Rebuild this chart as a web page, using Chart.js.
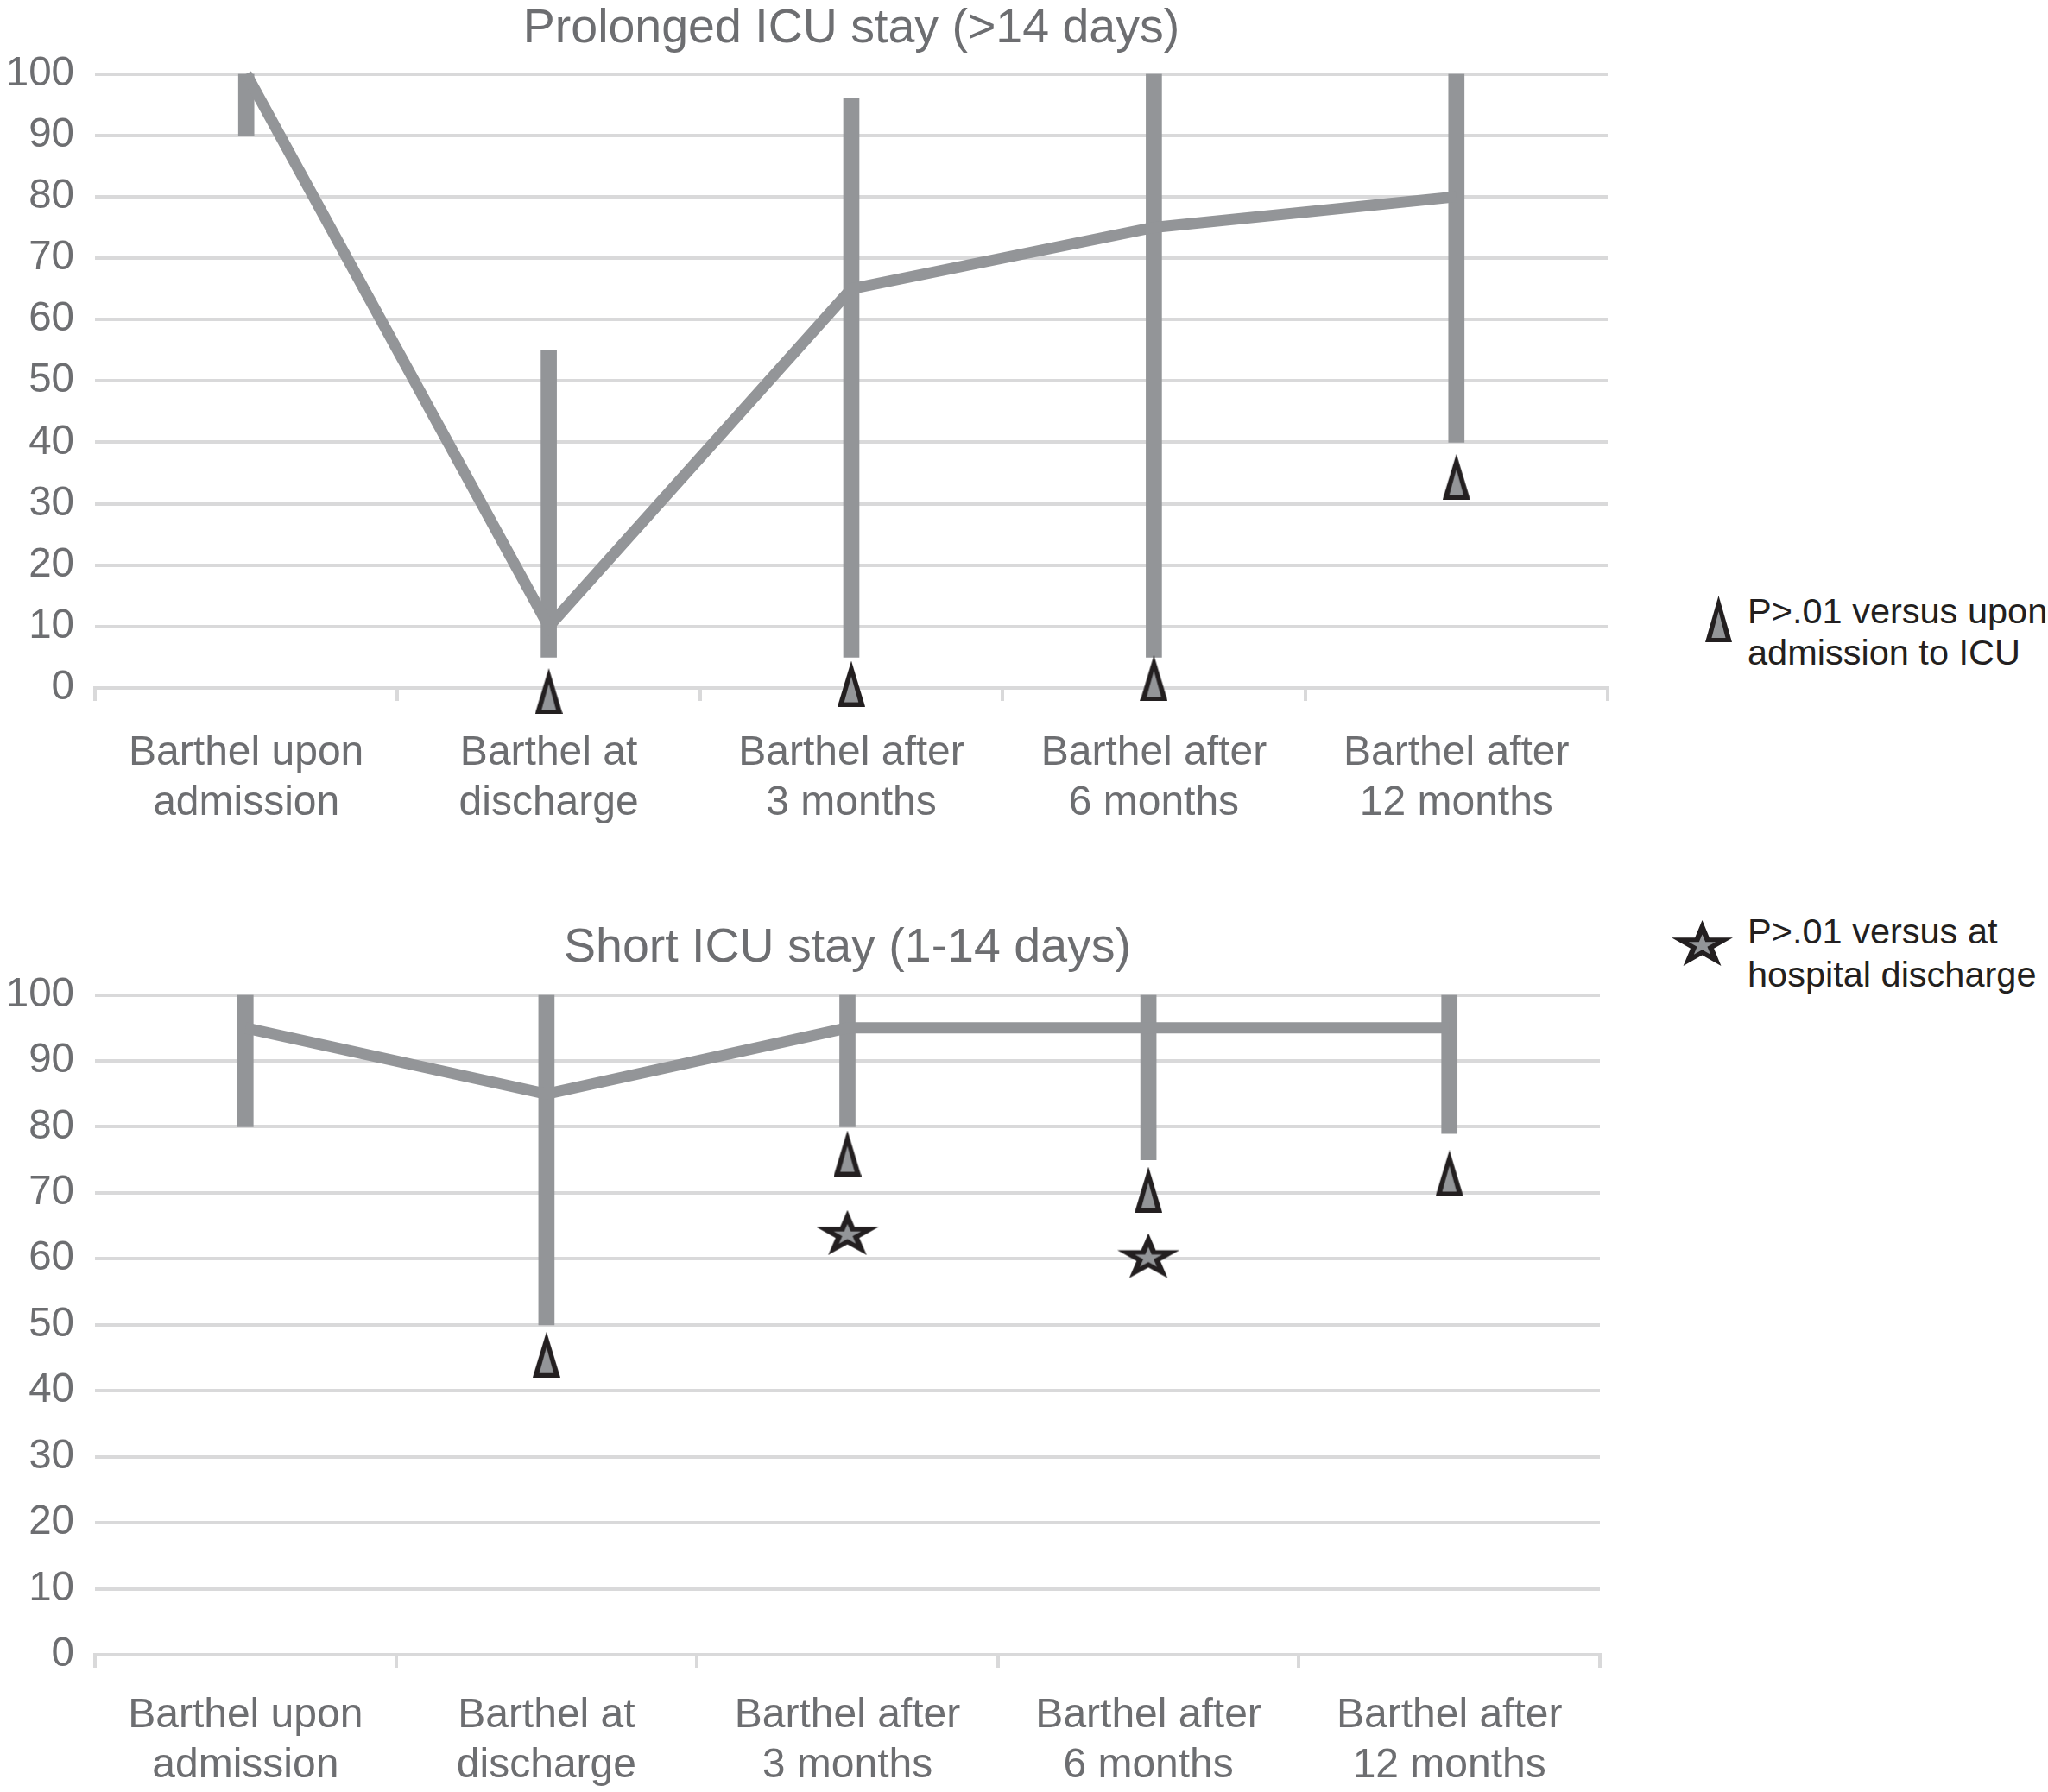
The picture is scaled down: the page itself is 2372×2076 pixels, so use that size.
<!DOCTYPE html>
<html><head><meta charset="utf-8">
<script src="https://cdn.jsdelivr.net/npm/chart.js@4.4.1/dist/chart.umd.min.js"></script>
<style>
html,body{margin:0;padding:0;background:#fff;width:2372px;height:2076px;overflow:hidden;position:relative;}
canvas{position:absolute;left:0;}
#c1{top:0}
#c2{top:1000px}
.leg{position:absolute;font-family:"Liberation Sans",Arial,sans-serif;font-size:41.5px;color:#231f20;white-space:nowrap;}
</style></head><body>
<canvas id="c1" width="1900" height="1000"></canvas>
<canvas id="c2" width="1900" height="1076"></canvas>
<canvas id="lt" style="left:1975px;top:690px" width="31" height="54"></canvas>
<div class="leg" style="left:2024px;top:684px;line-height:48px">P&gt;.01 versus upon<br>admission to ICU</div>
<canvas id="ls" style="left:1936px;top:1066px" width="71" height="53"></canvas>
<div class="leg" style="left:2024px;top:1054px;line-height:50px">P&gt;.01 versus at<br>hospital discharge</div>
<script>
// ---- data ----
const categories = [
  ['Barthel upon', 'admission'],
  ['Barthel at', 'discharge'],
  ['Barthel after', '3 months'],
  ['Barthel after', '6 months'],
  ['Barthel after', '12 months']
];
const prolongedTitle = 'Prolonged ICU stay (>14 days)';
const prolongedMean = [100, 10, 65, 75, 80];
const prolongedLow  = [90, 5, 5, 5, 40];
const prolongedHigh = [100, 55, 96, 100, 100];
const prolongedTriangle = [null, -0.5, 0.7, 1.6, 34.4];

const shortTitle = 'Short ICU stay (1-14 days)';
const shortMean = [95, 85, 95, 95, 95];
const shortLow  = [80, 50, 80, 75, 79];
const shortHigh = [100, 100, 100, 100, 100];
const shortTriangle = [null, 45.5, 76, 70.5, 73];
const shortStar = [null, null, 64, 60.5, null];

const yTicks = [0, 10, 20, 30, 40, 50, 60, 70, 80, 90, 100];
const legendTriangle = ['P>.01 versus upon', 'admission to ICU'];
const legendStar = ['P>.01 versus at', 'hospital discharge'];

// ---- styles ----
const GRAY = '#939598';
const GRID = '#d9d9da';
const TXT = '#6d6e71';
const DARK = '#231f20';
const FONT = '"Liberation Sans", Arial, sans-serif';

function drawTri(c) {
  const w = c.width, h = c.height, g = c.getContext('2d');
  g.fillStyle = DARK;
  g.beginPath(); g.moveTo(w / 2, 0); g.lineTo(w, h); g.lineTo(0, h); g.closePath(); g.fill();
  g.fillStyle = GRAY;
  g.beginPath(); g.moveTo(w / 2, h * 0.34); g.lineTo(w * 0.76, h - 5); g.lineTo(w * 0.24, h - 5); g.closePath(); g.fill();
  return c;
}
function starPath(g, cx, cy, sx, sy, k) {
  g.beginPath();
  for (let i = 0; i < 10; i++) {
    const r = (i % 2 === 0 ? 1 : 0.382) * k;
    const a = -Math.PI / 2 + i * Math.PI / 5;
    const x = cx + Math.cos(a) * r * sx, y = cy + Math.sin(a) * r * sy;
    if (i === 0) g.moveTo(x, y); else g.lineTo(x, y);
  }
  g.closePath();
}
function drawStar(c) {
  const w = c.width, h = c.height, g = c.getContext('2d');
  const sx = w / 1.902, sy = h / 1.809;
  const cx = w / 2, cy = sy;
  g.fillStyle = DARK; starPath(g, cx, cy, sx, sy, 1); g.fill();
  g.fillStyle = GRAY; starPath(g, cx, cy, sx, sy, 0.44); g.fill();
  return c;
}
function mk(w, h) { const c = document.createElement('canvas'); c.width = w; c.height = h; return c; }
const triImg = drawTri(mk(32, 53));
const starImg = drawStar(mk(72, 52));
drawTri(document.getElementById('lt'));
drawStar(document.getElementById('ls'));

function makeChart(id, cfg) {
  const ranges = cfg.low.map((l, i) => [l, cfg.high[i]]);
  const datasets = [
    { type: 'bar', data: ranges, backgroundColor: GRAY, barThickness: 18, order: 4 },
    { type: 'line', data: cfg.mean, borderColor: GRAY, borderWidth: 13, pointRadius: 0, order: 3, clip: false }
  ];
  if (cfg.tri) datasets.push({ type: 'line', data: cfg.tri, showLine: false, pointStyle: triImg, pointRadius: 30, order: 2, clip: false });
  if (cfg.star) datasets.push({ type: 'line', data: cfg.star, showLine: false, pointStyle: starImg, pointRadius: 30, order: 1, clip: false });
  return new Chart(document.getElementById(id), {
    type: 'bar',
    data: { labels: categories, datasets },
    options: {
      responsive: false, animation: false, devicePixelRatio: 1, events: [],
      layout: { padding: { left: 0, right: cfg.padRight, top: 0, bottom: 0 } },
      plugins: {
        legend: { display: false }, tooltip: { enabled: false },
        title: { display: true, text: cfg.title, color: TXT, fullSize: false,
          font: { family: FONT, size: 55.5, weight: 'normal', lineHeight: 1.2 },
          padding: { top: cfg.titleTop, bottom: cfg.titleBottom } }
      },
      scales: {
        x: {
          offset: true,
          grid: { offset: true, drawOnChartArea: false, drawTicks: true, tickLength: 15, color: GRID, lineWidth: 4 },
          border: { display: true, color: GRID, width: 4 },
          ticks: { color: TXT, font: { family: FONT, size: 48, lineHeight: 1.2 }, padding: cfg.xPad, maxRotation: 0, autoSkip: false },
          afterFit(s) { s.height = cfg.xHeight; }
        },
        y: {
          min: 0, max: 100,
          afterBuildTicks(s) { s.ticks = yTicks.map(v => ({ value: v })); },
          ticks: { color: TXT, font: { family: FONT, size: 47.5 }, padding: 24 },
          grid: { color: GRID, lineWidth: 4, drawTicks: false },
          border: { display: false },
          afterFit(s) { s.width = 110; }
        }
      }
    }
  });
}

makeChart('c1', { title: prolongedTitle, mean: prolongedMean, low: prolongedLow, high: prolongedHigh,
  tri: prolongedTriangle, star: null, padRight: 38, titleTop: 0, titleBottom: 19, xPad: 32, xHeight: 203 });
makeChart('c2', { title: shortTitle, mean: shortMean, low: shortLow, high: shortHigh,
  tri: shortTriangle, star: shortStar, padRight: 47, titleTop: 65, titleBottom: 21, xPad: 27, xHeight: 159 });
</script>
</body></html>
